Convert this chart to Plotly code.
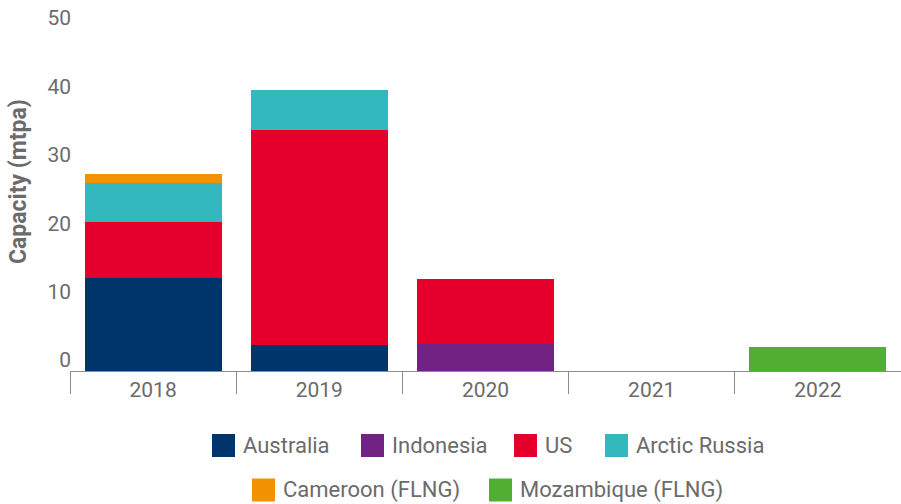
import plotly.graph_objects as go

# ---- data ----
years = ["2018", "2019", "2020", "2021", "2022"]
series_names = ["Australia", "Indonesia", "US", "Arctic Russia",
                "Cameroon (FLNG)", "Mozambique (FLNG)"]
australia = [13.6, 3.8, None, None, None]
indonesia = [None, None, 4.0, None, None]
us = [8.2, 31.4, 9.4, None, None]
arctic_russia = [5.7, 5.9, None, None, None]
cameroon = [1.3, None, None, None, None]
mozambique = [None, None, None, None, 3.5]
series_values = [australia, indonesia, us, arctic_russia, cameroon, mozambique]
colors = ["#00356b", "#722282", "#e4002b", "#33b8bd", "#f39200", "#52ae32"]
y_ticks = [0, 10, 20, 30, 40, 50]

# ---- layout constants ----
W, H = 901, 504
L, R, T, B = 70, 0, 29, 133
PW, PH = W - L - R, H - T - B
GRAY = "#6b6b6b"
FONT = "Roboto"


def px(x):
    return (x - L) / PW


def py(y):
    return (H - B - y) / PH


fig = go.Figure()
for name, vals, col in zip(series_names, series_values, colors):
    fig.add_trace(go.Bar(x=years, y=vals, name=name, marker_color=col,
                         marker_line_width=0, showlegend=False))

fig.update_layout(
    width=W, height=H, barmode="stack", bargap=0.176,
    margin=dict(l=L, r=R, t=T, b=B),
    plot_bgcolor="white", paper_bgcolor="white",
    font=dict(family=FONT, size=20, color=GRAY),
)
fig.update_xaxes(
    type="category", categoryorder="array", categoryarray=years,
    showline=True, linecolor="#8c8c8c", linewidth=1,
    ticks="outside", tickson="boundaries", ticklen=22, tickcolor="#8c8c8c",
    tickwidth=1, showgrid=False,
    tickfont=dict(family=FONT, size=21, color=GRAY),
)
fig.update_yaxes(
    range=[0, 50], tickvals=y_ticks, showgrid=False, zeroline=False,
    showline=False, ticks="", ticklabelshift=-11, ticklabelstandoff=-2,
    tickfont=dict(family=FONT, size=21, color=GRAY),
)

annotations = [dict(
    text="<b>Capacity (mtpa)</b>", textangle=-90, xref="paper", yref="paper",
    x=px(19), y=py(182), showarrow=False, xanchor="center", yanchor="middle",
    font=dict(family=FONT, size=23, color=GRAY),
)]

# manual legend (square x, row center y)
legend_pos = [(212, 445.5), (361, 445.5), (514, 445.5), (605, 445.5),
              (252, 490), (489, 490)]
shapes = []
sq = 23
for name, col, (sx, sy) in zip(series_names, colors, legend_pos):
    shapes.append(dict(type="rect", xref="paper", yref="paper",
                       x0=px(sx), x1=px(sx + sq), y0=py(sy + sq / 2),
                       y1=py(sy - sq / 2), fillcolor=col, line_width=0))
    annotations.append(dict(text=name, xref="paper", yref="paper",
                            x=px(sx + sq + 6), y=py(sy), xanchor="left",
                            yanchor="middle", showarrow=False,
                            font=dict(family=FONT, size=22, color=GRAY)))

fig.update_layout(shapes=shapes, annotations=annotations)
fig.write_html("out.html")
